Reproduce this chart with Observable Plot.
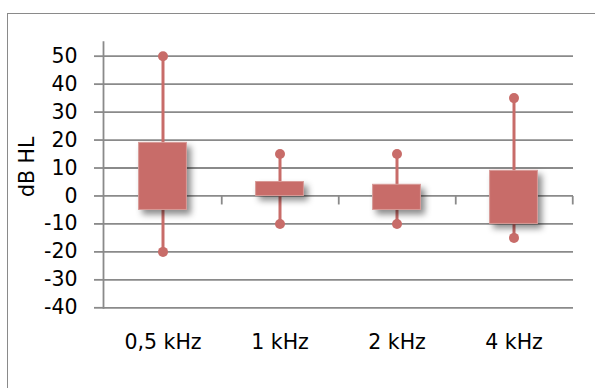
<!DOCTYPE html>
<html>
<head>
<meta charset="utf-8">
<script src="https://cdn.jsdelivr.net/npm/d3@7"></script>
<script src="https://cdn.jsdelivr.net/npm/@observablehq/plot@0.6"></script>
<style>
  html, body { margin: 0; padding: 0; background: #fff; overflow: hidden; }
  #wrap { position: relative; width: 595px; height: 388px; }
  #wrap svg text { font-size: 20.5px; font-family: "DejaVu Sans", sans-serif; fill: #000; }
  #border {
    position: absolute; left: 7px; top: 13px; width: 620px; height: 420px;
    border: 1.5px solid #8a8a8a; box-sizing: border-box; pointer-events: none;
  }
</style>
</head>
<body>
<div id="wrap"><div id="border"></div></div>
<script>
// Hearing threshold spread per frequency (dB HL)
const frequencies = ["0,5 kHz", "1 kHz", "2 kHz", "4 kHz"];
const lowerQuartile = [-5, 0, -5, -10];
const upperQuartile = [19, 5, 4, 9];
const minimum = [-20, -10, -10, -15];
const maximum = [50, 15, 15, 35];
const yTicks = [-40, -30, -20, -10, 0, 10, 20, 30, 40, 50];

const rows = frequencies.map((f, i) => ({
  f, q1: lowerQuartile[i], q3: upperQuartile[i], lo: minimum[i], hi: maximum[i]
}));

const boxColor = "#c86c69";
const gridColor = "#8a8a8a";
const font = "DejaVu Sans, sans-serif";

const width = 595, height = 388;
const marginLeft = 103, marginRight = 22, marginTop = 41.7, marginBottom = 80.7;
const band = (width - marginLeft - marginRight) / frequencies.length;

// short tick marks hanging below the zero line at each category boundary
const boundaryTick = {
  draw(ctx) { ctx.moveTo(0, 0); ctx.lineTo(0, 8.5); }
};

const chart = Plot.plot({
  width, height, marginLeft, marginRight, marginTop, marginBottom,
  style: { fontFamily: font, fontSize: "20.5px", color: "#000", background: "transparent" },
  x: { domain: frequencies, padding: 0, axis: null },
  y: { domain: [-40, 55], axis: null },
  marks: [
    Plot.gridY(yTicks, { stroke: gridColor, strokeOpacity: 1, strokeWidth: 1.8 }),
    Plot.axisY(yTicks, {
      tickSize: 9, tickPadding: 17, stroke: gridColor, strokeWidth: 1.8,
      tickFormat: d => String(d), fontSize: 20.5, fill: "#000", label: null
    }),
    Plot.frame({ anchor: "left", stroke: gridColor, strokeWidth: 1.8 }),
    Plot.dot(frequencies, {
      x: d => d, y: () => 0, dx: band / 2, symbol: boundaryTick,
      stroke: gridColor, strokeWidth: 1.8, fill: "none", r: 4
    }),
    Plot.axisX({
      tickSize: 0, tickPadding: 27, fontSize: 20.5, fill: "#000", label: null
    }),
    Plot.text(["dB HL"], {
      frameAnchor: "left", dx: -76, dy: 22, rotate: -90,
      fontSize: 20.5, fill: "#000"
    }),
    Plot.ruleX(rows, { x: "f", y1: "lo", y2: "hi", stroke: boxColor, strokeWidth: 3 }),
    Plot.dot(rows, { x: "f", y: "lo", r: 5, fill: boxColor }),
    Plot.dot(rows, { x: "f", y: "hi", r: 5, fill: boxColor }),
    Plot.barY(rows, {
      x: "f", y1: "q1", y2: "q3", fill: boxColor,
      stroke: "#d89a97", strokeWidth: 1,
      insetLeft: 34.6, insetRight: 34.6
    })
  ]
});

// soft drop shadow under the boxes
const svg = d3.select(chart);
const defs = svg.insert("defs", ":first-child");
const filt = defs.append("filter").attr("id", "boxShadow")
  .attr("x", "-30%").attr("y", "-30%").attr("width", "160%").attr("height", "160%");
filt.append("feDropShadow")
  .attr("dx", 4).attr("dy", 4.5).attr("stdDeviation", 3)
  .attr("flood-color", "#000").attr("flood-opacity", 0.45);
svg.selectAll("g[aria-label='bar']").attr("filter", "url(#boxShadow)");

chart.style.position = "absolute";
chart.style.left = "0";
chart.style.top = "0";
document.getElementById("wrap").insertBefore(chart, document.getElementById("border"));
</script>
</body>
</html>
